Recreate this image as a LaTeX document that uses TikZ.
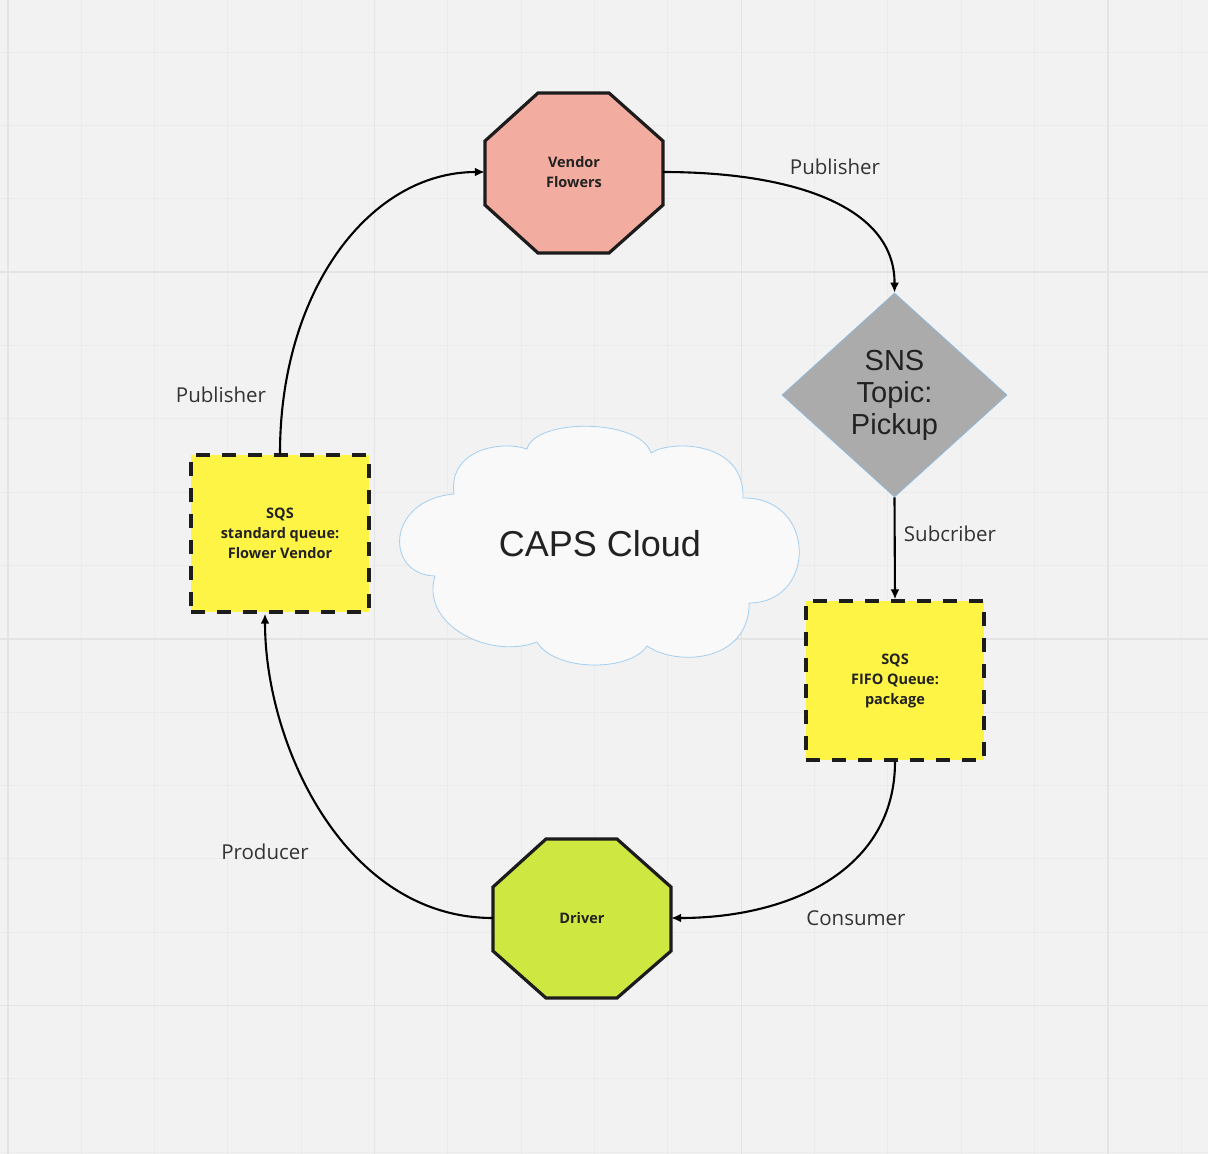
\documentclass[tikz,border=0pt]{standalone}
\usepackage{fontspec}
\setmainfont{Open Sans}
\newfontfamily\arialish{Liberation Sans}
\usetikzlibrary{shapes.geometric,arrows.meta,calc}
\definecolor{bgcol}{HTML}{F2F2F2}
\definecolor{gridminor}{HTML}{EBEBEB}
\definecolor{gridmajor}{HTML}{E4E4E4}
\definecolor{vendorfill}{HTML}{F3ACA0}
\definecolor{driverfill}{HTML}{CFE741}
\definecolor{sqsfill}{HTML}{FEF445}
\definecolor{snsfill}{HTML}{ABABAB}
\definecolor{snsline}{HTML}{8DB8DE}
\definecolor{cloudfill}{HTML}{F9F9F9}
\definecolor{cloudline}{HTML}{A3CEF1}
\definecolor{edgeline}{HTML}{1C1C1C}
\definecolor{labeltext}{HTML}{333333}
\definecolor{nodetext}{HTML}{222222}
\tikzset{
  octline/.style={draw=edgeline, line width=3.2pt, line join=miter},
  octtext/.style={font=\fontsize{14.5}{20}\selectfont\bfseries, text=nodetext, align=center, inner sep=0pt},
  sqsbox/.style={draw=edgeline, fill=sqsfill, line width=3.4pt, dash pattern=on 14pt off 12pt,
     minimum width=178pt, inner sep=0pt, font=\fontsize{14.5}{20}\selectfont\bfseries, text=nodetext, align=center},
  snsbox/.style={diamond, draw=snsline, fill=snsfill, line width=0.8pt, minimum width=225pt, minimum height=204pt,
     inner sep=0pt, aspect=1.1, font=\arialish\fontsize{29}{32}\selectfont, text=nodetext, align=center},
  lbl/.style={font=\fontsize{20.5}{24}\selectfont, text=labeltext, inner sep=0pt},
  conn/.style={draw=black, line width=2.1pt, -{Latex[length=10pt,width=9pt]}}
}
\begin{document}
\begin{tikzpicture}[x=1pt,y=-1pt]
\useasboundingbox (0,0) rectangle (1208,1154);
\fill[bgcol] (0,0) rectangle (1208,1154);
% grid
\foreach \i in {0,...,16} {
  \draw[gridminor, line width=1pt] ({8+73.33*\i},0) -- ({8+73.33*\i},1154);
}
\foreach \j in {0,...,15} {
  \draw[gridminor, line width=1pt] (0,{52.1+73.33*\j}) -- (1208,{52.1+73.33*\j});
}
\foreach \i in {0,5,10,15} {
  \draw[gridmajor, line width=1.6pt] ({8+73.33*\i},0) -- ({8+73.33*\i},1154);
}
\foreach \j in {3,8,13} {
  \draw[gridmajor, line width=1.6pt] (0,{52.1+73.33*\j}) -- (1208,{52.1+73.33*\j});
}

% cloud
\draw[fill=cloudfill, draw=cloudline, line width=0.8pt]
  (527,449) .. controls (535,418) and (640,418) .. (651,453)
  .. controls (670,440) and (745,440) .. (743,498)
  .. controls (817,497) and (817,603) .. (749,603)
  .. controls (750,660) and (680,668) .. (647,646)
  .. controls (630,672) and (555,672) .. (537,642)
  .. controls (490,660) and (420,625) .. (435,576)
  .. controls (385,575) and (385,500) .. (454,494)
  .. controls (448,450) and (500,440) .. (527,449) -- cycle;
\node[font=\arialish\fontsize{36}{40}\selectfont, text=nodetext, inner sep=0pt] (cloud) at (600,544) {CAPS Cloud};

% vendor octagon
\fill[vendorfill] (538,93) -- (609,93) -- (663,141) -- (663,205) -- (609,253) -- (538,253) -- (485,205) -- (485,141) -- cycle;
\draw[octline] (538,93) -- (609,93) -- (663,141) -- (663,205) -- (609,253) -- (538,253) -- (485,205) -- (485,141) -- cycle;
\node[octtext, minimum width=178pt, minimum height=160pt] (vendor) at (574,172) {Vendor\\Flowers};

% driver octagon
\fill[driverfill] (546,839) -- (617,839) -- (671,887) -- (671,951) -- (617,998) -- (546,998) -- (493,951) -- (493,887) -- cycle;
\draw[octline] (546,839) -- (617,839) -- (671,887) -- (671,951) -- (617,998) -- (546,998) -- (493,951) -- (493,887) -- cycle;
\node[octtext, minimum width=178pt, minimum height=159pt] (driver) at (582,918) {Driver};

% SNS diamond
\node[snsbox] (sns) at (894.5,395) {SNS\\Topic:\\Pickup};

% SQS boxes
\node[sqsbox, minimum height=157pt] (sqsstd) at (280,533.5) {SQS\\standard queue:\\Flower Vendor};
\node[sqsbox, minimum height=159pt] (sqsfifo) at (895,680.5) {SQS\\FIFO Queue:\\package};

% connectors
\draw[conn] (vendor.east) .. controls (790,172) and (895,205) .. (sns.north);
\draw[conn] (sns.south) -- (sqsfifo.north);
\draw[conn] (sqsfifo.south) .. controls (895,870) and (790,918) .. (driver.east);
\draw[conn] (driver.west) .. controls (345,918) and (265,745) .. ([xshift=-15pt]sqsstd.south);
\draw[conn] (sqsstd.north) .. controls (280,290) and (370,172) .. (vendor.west);

% labels
\node[lbl] (lpub1) at (835,167) {Publisher};
\node[lbl] (lsub) at (950,534) {Subcriber};
\node[lbl] (lcons) at (856,918) {Consumer};
\node[lbl] (lprod) at (265,852) {Producer};
\node[lbl] (lpub2) at (221,395) {Publisher};
\end{tikzpicture}
\end{document}
